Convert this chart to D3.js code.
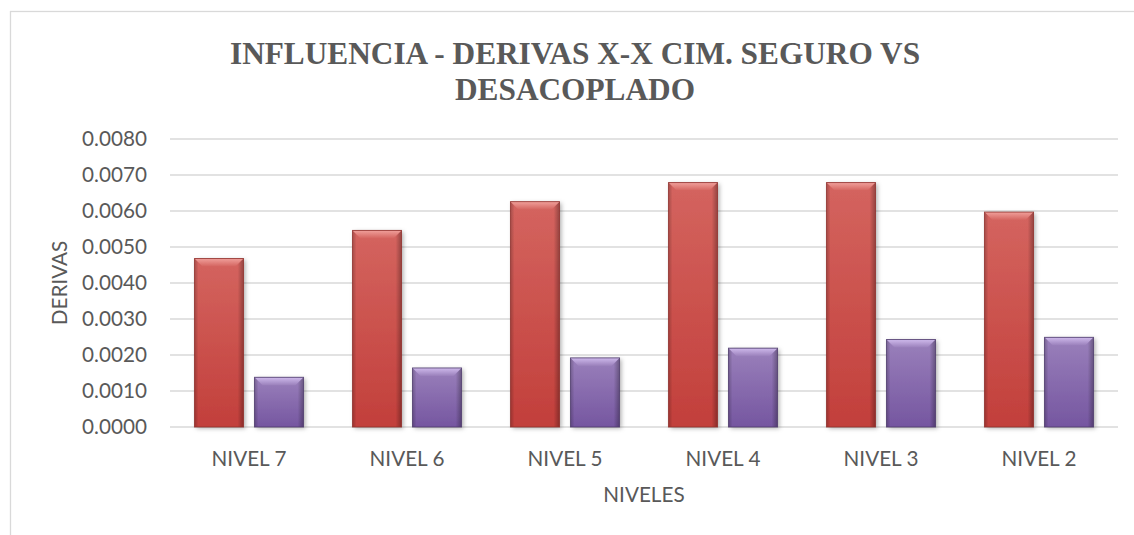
<!DOCTYPE html>
<html>
    <head>
        <meta charset="utf-8">
        <script src="https://cdn.jsdelivr.net/npm/d3@7"></script>
        <style>
            body { margin: 0; background: #fff; }
            text { fill: #595959; }
        </style>
    </head>
    <body>
        <svg id="chart" width="1134" height="535"></svg>
    </body>
    <script>
        // datos
        const niveles = ["NIVEL 7", "NIVEL 6", "NIVEL 5", "NIVEL 4", "NIVEL 3", "NIVEL 2"];
        const seguro = [0.00468, 0.00546, 0.00626, 0.00679, 0.00679, 0.00597];
        const desacoplado = [0.00138, 0.00164, 0.00192, 0.00219, 0.00243, 0.00249];
        const yTicks = [0, 0.001, 0.002, 0.003, 0.004, 0.005, 0.006, 0.007, 0.008];
        const titulo = ["INFLUENCIA - DERIVAS X-X CIM. SEGURO VS", "DESACOPLADO"];

        const series = [
            {name: "seguro", values: seguro, c1: "#d4645f", c2: "#c23f3b", light: "#f0a09b", edge: "#8e2f2c"},
            {name: "desacoplado", values: desacoplado, c1: "#9a80bb", c2: "#7556a0", light: "#cfbaec", edge: "#4e3b6c"}
        ];

        const svg = d3.select("#chart");
        const font = "Lato, 'Open Sans', sans-serif";

        // borde del area del grafico
        svg.append("rect")
            .attr("x", 10.5).attr("y", 11.5)
            .attr("width", 1140).attr("height", 600)
            .attr("fill", "none").attr("stroke", "#d9d9d9").attr("stroke-width", 1.3);

        const pLeft = 170, pRight = 1118, pTop = 139, pBottom = 427;

        const x0 = d3.scaleBand().domain(niveles).range([pLeft, pRight]).padding(0);
        const x1 = d3.scaleBand().domain(series.map(s => s.name))
            .range([0, x0.bandwidth()]).paddingInner(0.183).paddingOuter(0.408);
        const y = d3.scaleLinear().domain([0, 0.008]).range([pBottom, pTop]);

        const defs = svg.append("defs");
        series.forEach(function(s) {
            let g = defs.append("linearGradient").attr("id", "grad-" + s.name)
                .attr("x1", 0).attr("y1", 0).attr("x2", 0).attr("y2", 1);
            g.append("stop").attr("offset", "0%").attr("stop-color", s.c1);
            g.append("stop").attr("offset", "100%").attr("stop-color", s.c2);
            let b = defs.append("linearGradient").attr("id", "bev-" + s.name)
                .attr("x1", 0).attr("y1", 0).attr("x2", 0).attr("y2", 1);
            b.append("stop").attr("offset", "0%").attr("stop-color", s.light);
            b.append("stop").attr("offset", "100%").attr("stop-color", s.c1);
        });
        let side = defs.append("linearGradient").attr("id", "side")
            .attr("x1", 0).attr("y1", 0).attr("x2", 1).attr("y2", 0);
        side.append("stop").attr("offset", "0%").attr("stop-color", "#000").attr("stop-opacity", 0.22);
        side.append("stop").attr("offset", "8%").attr("stop-color", "#000").attr("stop-opacity", 0);
        side.append("stop").attr("offset", "88%").attr("stop-color", "#000").attr("stop-opacity", 0);
        side.append("stop").attr("offset", "100%").attr("stop-color", "#000").attr("stop-opacity", 0.3);

        let shadow = defs.append("filter").attr("id", "shadow")
            .attr("x", "-20%").attr("y", "-10%").attr("width", "150%").attr("height", "130%");
        shadow.append("feDropShadow").attr("dx", 2).attr("dy", 1.5).attr("stdDeviation", 2)
            .attr("flood-color", "#000").attr("flood-opacity", 0.3);

        // lineas de division
        svg.append("g").selectAll("line")
            .data(yTicks)
            .enter().append("line")
            .attr("x1", pLeft).attr("x2", pRight)
            .attr("y1", d => y(d)).attr("y2", d => y(d))
            .attr("stroke", "#d9d9d9").attr("stroke-width", 1.5);

        // eje Y
        const yAxis = d3.axisLeft(y).tickValues(yTicks).tickFormat(d3.format(".4f")).tickSize(0).tickPadding(23);
        svg.append("g").attr("transform", "translate(" + pLeft + ",0)").call(yAxis)
            .call(g => g.select(".domain").remove())
            .selectAll("text").style("font-family", font).style("font-size", "20.7px").attr("fill", "#595959");

        // barras
        const groups = svg.append("g").selectAll("g")
            .data(niveles)
            .enter().append("g")
            .attr("transform", d => "translate(" + x0(d) + ",0)");

        groups.each(function(nivel, i) {
            let gg = d3.select(this);
            series.forEach(function(s) {
                let bx = x1(s.name), bw = x1.bandwidth();
                let by = y(s.values[i]), bh = y(0) - y(s.values[i]);
                let bar = gg.append("g");
                bar.append("rect")
                    .attr("x", bx).attr("y", by).attr("width", bw).attr("height", bh)
                    .attr("fill", "url(#grad-" + s.name + ")")
                    .attr("filter", "url(#shadow)");
                bar.append("rect")
                    .attr("x", bx).attr("y", by).attr("width", bw).attr("height", bh)
                    .attr("fill", "url(#side)");
                let bev = Math.min(8, bh / 2);
                bar.append("polygon")
                    .attr("points", [[bx, by], [bx + bw, by], [bx + bw - bev, by + bev], [bx + bev, by + bev]].join(" "))
                    .attr("fill", "url(#bev-" + s.name + ")");
                bar.append("rect")
                    .attr("x", bx).attr("y", by).attr("width", bw).attr("height", bh)
                    .attr("fill", "none").attr("stroke", s.edge).attr("stroke-width", 1).attr("stroke-opacity", 0.8);
            });
        });

        // eje X
        const xAxis = d3.axisBottom(x0).tickSize(0).tickPadding(24);
        svg.append("g").attr("transform", "translate(0," + pBottom + ")").call(xAxis)
            .call(g => g.select(".domain").remove())
            .selectAll("text").style("font-family", font).style("font-size", "20.7px").attr("fill", "#595959");

        // titulos
        svg.append("text").attr("x", 575).attr("y", 63.5)
            .attr("text-anchor", "middle")
            .style("font-family", "'Liberation Serif', serif").style("font-weight", "bold").style("font-size", "31.3px")
            .selectAll("tspan").data(titulo).enter().append("tspan")
            .attr("x", 575).attr("dy", (d, i) => i == 0 ? 0 : 36.5)
            .text(d => d);

        svg.append("text").attr("x", (pLeft + pRight) / 2).attr("y", 501.7)
            .attr("text-anchor", "middle")
            .style("font-family", font).style("font-size", "20.7px")
            .text("NIVELES");

        svg.append("text").attr("transform", "translate(66.7," + (pTop + pBottom) / 2 + ") rotate(-90)")
            .attr("text-anchor", "middle")
            .style("font-family", font).style("font-size", "20.7px")
            .text("DERIVAS");
    </script>
</html>
